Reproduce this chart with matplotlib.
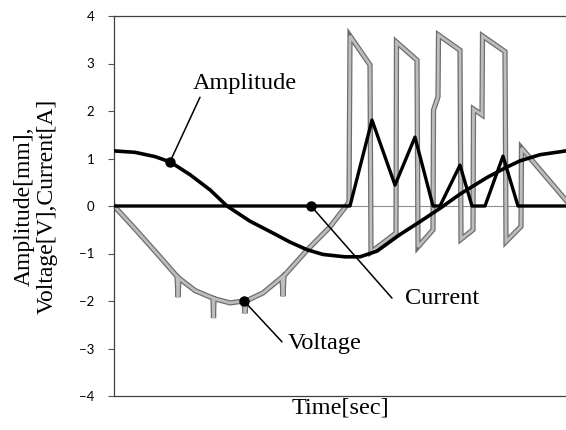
import matplotlib
matplotlib.use("Agg")
import matplotlib.pyplot as plt
import matplotlib.patheffects as pe

# time axis in arbitrary units (no x tick labels in the original)
amp_t = [0, 21, 41, 56, 76, 96, 113, 136, 159, 176, 193, 209, 231, 246, 263,
         286, 306, 326, 346, 373, 391, 406, 426, 452]
amp_v = [1.16, 1.13, 1.04, 0.93, 0.66, 0.34, 0.0, -0.32, -0.57, -0.76, -0.92,
         -1.02, -1.07, -1.07, -0.95, -0.6, -0.33, -0.05, 0.25, 0.6, 0.8, 0.95,
         1.08, 1.16]

volt_t = [0, 21, 43, 63, 64, 65, 81, 99, 99.5, 100, 116, 130, 131, 132, 149,
          168, 169, 170, 193, 216, 235, 236, 256, 257, 282, 282.5, 303, 304,
          319, 319.5, 324, 324.5, 346, 347, 359, 359.5, 368, 368.5, 391, 392,
          407, 407.5, 452]
volt_v = [0.0, -0.48, -1.0, -1.48, -1.92, -1.52, -1.78, -1.94, -2.36, -1.95,
          -2.04, -2.0, -2.26, -2.0, -1.83, -1.5, -1.9, -1.47, -0.93, -0.44,
          0.08, 3.58, 2.97, -0.97, -0.57, 3.45, 3.07, -0.86, -0.5, 2.02, 2.3,
          3.6, 3.28, -0.7, -0.5, 2.04, 1.92, 3.58, 3.25, -0.75, -0.43, 1.22,
          0.12]

cur_t = [0, 236, 258, 281, 301, 319, 326, 346, 358, 371, 389, 404, 452]
cur_v = [0, 0, 1.81, 0.44, 1.45, 0, 0, 0.86, 0, 0, 1.05, 0, 0]

# marker positions (index into each series)
amp_mark = 3
volt_mark = 11
cur_mark_t = 197

serif = ["Liberation Serif", "DejaVu Serif"]

fig = plt.figure(figsize=(5.66, 4.30), dpi=100)
ax = fig.add_axes([114 / 566, 34 / 430, 452 / 566, 380 / 430])

ax.axhline(0, color="#909090", lw=0.8, zorder=1)

ax.plot(volt_t, volt_v, color="#bdbdbd", lw=2.0, zorder=2,
        solid_joinstyle="miter",
        path_effects=[pe.Stroke(linewidth=3.8, foreground="#6e6e6e"), pe.Normal()])
ax.plot(cur_t, cur_v, color="black", lw=2.4, zorder=3)
ax.plot(amp_t, amp_v, color="black", lw=2.6, zorder=4)

ax.plot(amp_t[amp_mark], amp_v[amp_mark], "o", color="black", ms=6.5, zorder=5)
ax.plot(volt_t[volt_mark], volt_v[volt_mark], "o", color="black", ms=6.5, zorder=5)
ax.plot(cur_mark_t, 0, "o", color="black", ms=6.5, zorder=5)

# leader lines and labels
ax.annotate("", xy=(amp_t[amp_mark], amp_v[amp_mark]), xytext=(86, 2.29),
            arrowprops=dict(arrowstyle="-", color="black", lw=1.1, shrinkA=0, shrinkB=0))
ax.text(131, 2.57, "Amplitude", family=serif, fontsize=17.5, ha="center", va="center")

ax.annotate("", xy=(cur_mark_t, 0), xytext=(278, -1.94),
            arrowprops=dict(arrowstyle="-", color="black", lw=1.1, shrinkA=0, shrinkB=0))
ax.text(291, -1.94, "Current", family=serif, fontsize=17.5, ha="left", va="center")

ax.annotate("", xy=(volt_t[volt_mark], volt_v[volt_mark]), xytext=(168, -2.86),
            arrowprops=dict(arrowstyle="-", color="black", lw=1.1, shrinkA=0, shrinkB=0))
ax.text(174, -2.9, "Voltage", family=serif, fontsize=17.5, ha="left", va="center")

ax.set_xlim(0, 452)
ax.set_ylim(-4, 4)
ax.set_xticks([])
ax.set_yticks(range(-4, 5))
ax.tick_params(axis="y", direction="out", length=4, width=0.8, pad=10,
               labelsize=9.5, color="#555555")
for lab in ax.get_yticklabels():
    lab.set_family(["Lato", "DejaVu Sans"])

for side in ["left", "top", "bottom"]:
    ax.spines[side].set_color("#404040")
    ax.spines[side].set_linewidth(0.9)
ax.spines["right"].set_visible(False)

ax.set_xlabel("Time[sec]", family=serif, fontsize=17.5, labelpad=1)
fig.text(36 / 566, 1 - 206 / 430, "Amplitude[mm],\nVoltage[V],Current[A]",
         family=serif, fontsize=17, rotation=90, ha="center", va="center",
         multialignment="center", linespacing=1.15)

fig.savefig("out.png", dpi=100)
